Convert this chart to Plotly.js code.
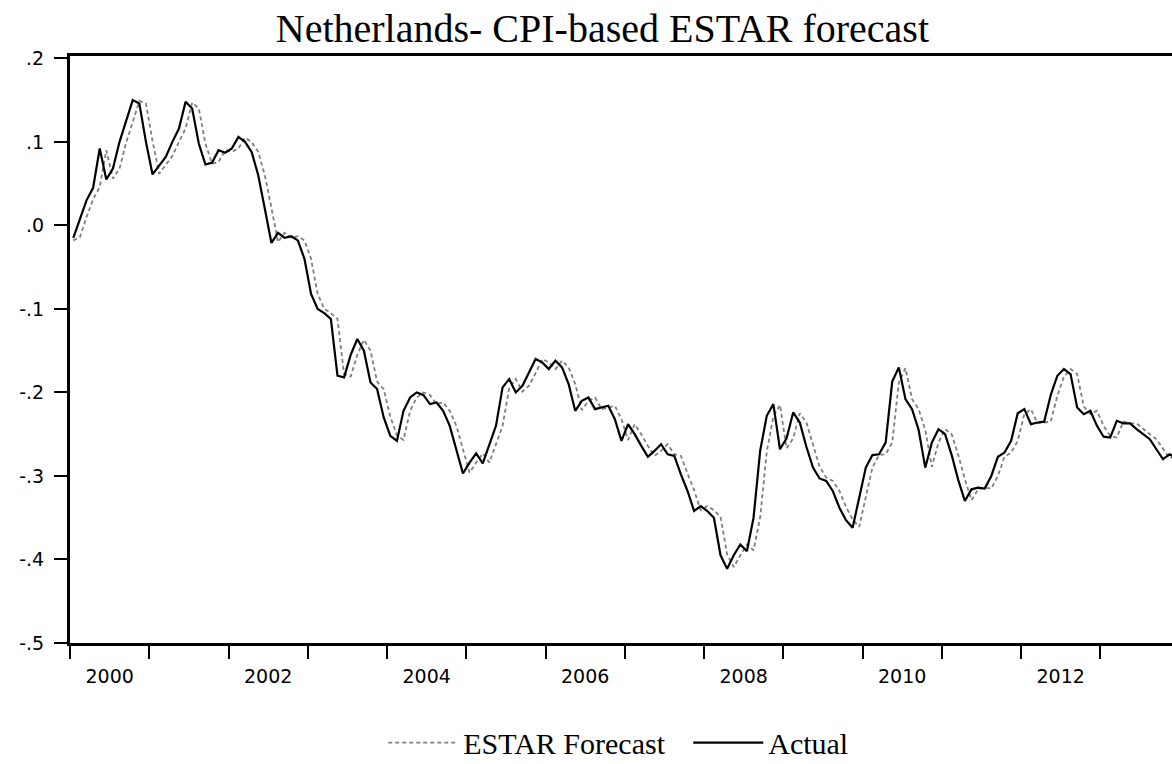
<!DOCTYPE html>
<html>
<head>
<meta charset="utf-8">
<script src="https://cdn.plot.ly/plotly-3.0.1.min.js"></script>
<style>
  html, body { margin: 0; padding: 0; background: #ffffff; overflow: hidden; }
  #chart { width: 1172px; height: 764px; }
</style>
</head>
<body>
<div id="chart"></div>
<script>
// Monthly series, starting January 2000
const startYear = 2000;

// Real exchange rate deviation (Actual)
const actual = [
  -0.015, 0.008, 0.030, 0.045, 0.092, 0.055, 0.068, 0.100, 0.124, 0.150, 0.146, 0.100,
   0.061, 0.072, 0.082, 0.100, 0.116, 0.148, 0.140, 0.098, 0.073, 0.075, 0.090, 0.087,
   0.092, 0.106, 0.100, 0.088, 0.060, 0.020, -0.021, -0.009, -0.015, -0.013, -0.018, -0.040,
  -0.082, -0.100, -0.105, -0.112, -0.180, -0.182, -0.155, -0.136, -0.150, -0.188, -0.196, -0.230,
  -0.252, -0.258, -0.222, -0.206, -0.200, -0.203, -0.214, -0.212, -0.222, -0.240, -0.268, -0.297,
  -0.284, -0.273, -0.285, -0.262, -0.240, -0.194, -0.184, -0.200, -0.192, -0.176, -0.160, -0.164,
  -0.172, -0.162, -0.170, -0.190, -0.222, -0.210, -0.206, -0.220, -0.218, -0.216, -0.232, -0.258,
  -0.238, -0.250, -0.264, -0.277, -0.270, -0.262, -0.274, -0.276, -0.298, -0.318, -0.342, -0.336,
  -0.342, -0.350, -0.395, -0.411, -0.395, -0.382, -0.390, -0.350, -0.270, -0.228, -0.214, -0.268,
  -0.255, -0.224, -0.236, -0.265, -0.290, -0.303, -0.306, -0.318, -0.338, -0.353, -0.362, -0.325,
  -0.290, -0.275, -0.274, -0.260, -0.187, -0.170, -0.208, -0.220, -0.245, -0.290, -0.260, -0.244,
  -0.250, -0.275, -0.305, -0.330, -0.316, -0.314, -0.315, -0.300, -0.277, -0.272, -0.258, -0.225,
  -0.220, -0.238, -0.236, -0.235, -0.203, -0.180, -0.172, -0.178, -0.218, -0.226, -0.222, -0.240,
  -0.253, -0.254, -0.234, -0.237, -0.237, -0.244, -0.250, -0.256, -0.268, -0.280, -0.274, -0.278
];

// One-step-ahead ESTAR forecast
const estarForecast = [
  -0.018, -0.014, 0.010, 0.031, 0.046, 0.090, 0.056, 0.068, 0.099, 0.123, 0.149, 0.146,
   0.101, 0.062, 0.072, 0.083, 0.100, 0.116, 0.147, 0.140, 0.098, 0.074, 0.076, 0.090,
   0.088, 0.092, 0.105, 0.100, 0.088, 0.060, 0.021, -0.020, -0.009, -0.015, -0.013, -0.018,
  -0.040, -0.082, -0.100, -0.105, -0.112, -0.178, -0.181, -0.155, -0.137, -0.150, -0.187, -0.196,
  -0.229, -0.251, -0.257, -0.222, -0.206, -0.200, -0.203, -0.214, -0.212, -0.222, -0.240, -0.267,
  -0.296, -0.284, -0.273, -0.284, -0.262, -0.240, -0.195, -0.184, -0.199, -0.192, -0.177, -0.160,
  -0.164, -0.172, -0.162, -0.170, -0.190, -0.221, -0.210, -0.206, -0.220, -0.218, -0.216, -0.232,
  -0.257, -0.238, -0.250, -0.264, -0.276, -0.270, -0.262, -0.274, -0.276, -0.297, -0.317, -0.341,
  -0.336, -0.341, -0.349, -0.394, -0.409, -0.395, -0.382, -0.389, -0.350, -0.271, -0.229, -0.215,
  -0.267, -0.255, -0.225, -0.236, -0.264, -0.289, -0.302, -0.306, -0.318, -0.337, -0.352, -0.361,
  -0.325, -0.290, -0.275, -0.274, -0.260, -0.188, -0.171, -0.208, -0.220, -0.245, -0.289, -0.260,
  -0.244, -0.250, -0.275, -0.304, -0.329, -0.316, -0.314, -0.315, -0.300, -0.277, -0.272, -0.258,
  -0.226, -0.220, -0.237, -0.236, -0.235, -0.204, -0.181, -0.172, -0.178, -0.217, -0.226, -0.222,
  -0.240, -0.252, -0.254, -0.235, -0.237, -0.237, -0.244, -0.250, -0.256, -0.267, -0.279, -0.274
];

// Axis ticks and labels
const yTickVals = [0.2, 0.1, 0.0, -0.1, -0.2, -0.3, -0.4, -0.5];
const yTickText = ['.2', '.1', '.0', '-.1', '-.2', '-.3', '-.4', '-.5'];
const yearTicks = [2000, 2001, 2002, 2003, 2004, 2005, 2006, 2007, 2008, 2009, 2010, 2011, 2012, 2013, 2014];
const yearLabels = ['2000', '2002', '2004', '2006', '2008', '2010', '2012'];

// Observations sit in the middle of each month; year labels sit mid-year
const monthX = actual.map((_, i) => startYear + (i + 0.5) / 12);
const labelX = yearLabels.map(s => Number(s) + 0.5);

const xRange = [2000, 2013.905];
const yRange = [-0.5, 0.2028];

const tickFont = { family: 'DejaVu Sans, Verdana, sans-serif', size: 19, color: '#000000' };
const serif = 'Liberation Serif, Times New Roman, serif';

const traces = [
  {
    x: monthX, y: estarForecast, name: 'ESTAR Forecast',
    type: 'scatter', mode: 'lines', xaxis: 'x', yaxis: 'y',
    line: { color: '#7f7f7f', width: 1.8, dash: '4px,3px' }
  },
  {
    x: monthX, y: actual, name: 'Actual',
    type: 'scatter', mode: 'lines', xaxis: 'x2', yaxis: 'y',
    line: { color: '#000000', width: 2.2 }
  }
];

const layout = {
  width: 1172, height: 764,
  margin: { l: 70, r: 0, t: 56, b: 121 },
  paper_bgcolor: '#ffffff', plot_bgcolor: '#ffffff',
  title: {
    text: 'Netherlands- CPI-based ESTAR forecast',
    font: { family: serif, size: 40, color: '#000000' },
    xref: 'container', x: 0.514, xanchor: 'center',
    yref: 'container', y: 0.964, yanchor: 'middle'
  },
  xaxis: {
    range: xRange, showgrid: false, zeroline: false,
    showline: true, linecolor: '#000000', linewidth: 3, mirror: true,
    tickmode: 'array', tickvals: yearTicks, showticklabels: false,
    ticks: 'outside', ticklen: 13, tickwidth: 2, tickcolor: '#000000'
  },
  xaxis2: {
    overlaying: 'x', anchor: 'y', side: 'bottom',
    range: xRange, showgrid: false, zeroline: false, showline: false,
    tickmode: 'array', tickvals: labelX, ticktext: yearLabels,
    ticks: '', ticklabelstandoff: 20, tickfont: tickFont
  },
  yaxis: {
    range: yRange, showgrid: false, zeroline: false,
    showline: true, linecolor: '#000000', linewidth: 3,
    tickmode: 'array', tickvals: yTickVals, ticktext: yTickText,
    ticks: 'outside', ticklen: 13, tickwidth: 2, tickcolor: '#000000',
    ticklabelstandoff: 6, tickfont: tickFont
  },
  showlegend: true,
  legend: {
    orientation: 'h',
    xref: 'container', x: 0.327, xanchor: 'left',
    yref: 'container', y: 0.028, yanchor: 'middle',
    font: { family: serif, size: 30, color: '#000000' },
    bgcolor: 'rgba(0,0,0,0)', itemwidth: 70, entrywidth: 220
  }
};

Plotly.newPlot('chart', traces, layout, { staticPlot: true, displayModeBar: false });
</script>
</body>
</html>
